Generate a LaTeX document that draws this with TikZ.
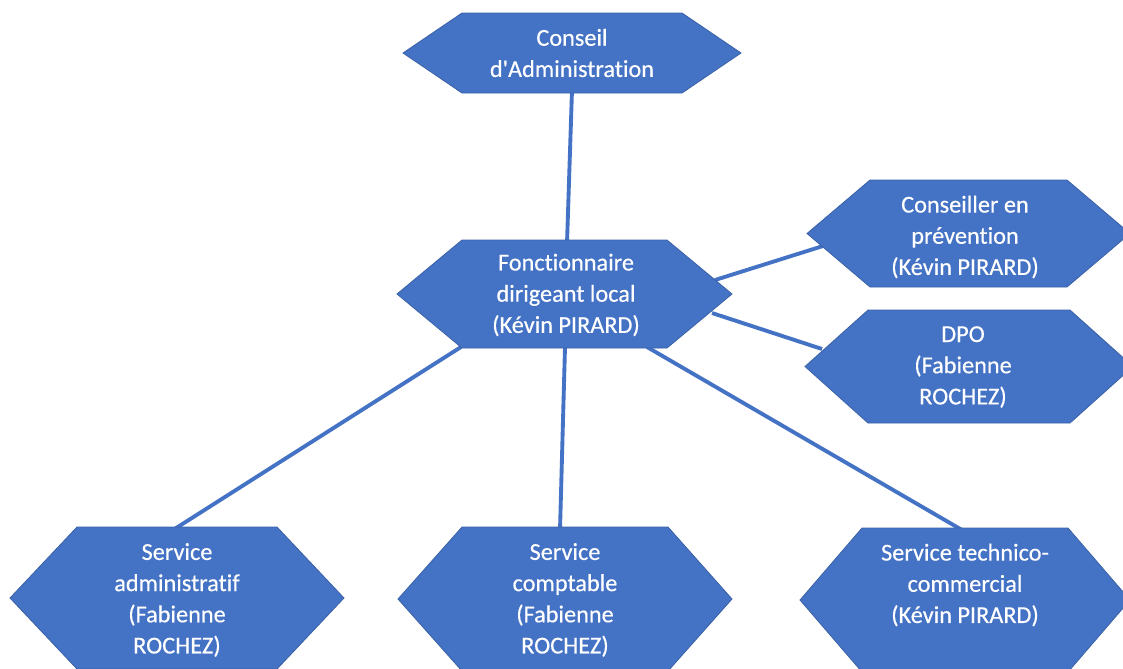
\documentclass[tikz,border=0pt]{standalone}
\usepackage{fontspec}
\newfontfamily\calfont[Ligatures={NoCommon,NoContextual}, RawFeature={-liga;-clig}, FakeBold=0.4]{Carlito}
\usetikzlibrary{calc}
\definecolor{offblue}{HTML}{4472C4}
\tikzset{
  hexfill/.style={fill=offblue, draw=offblue!85!black, line width=0.6pt},
  hextext/.style={text=white, align=center, inner sep=0pt,
    font=\calfont\fontsize{18.2}{23.4}\selectfont},
  link/.style={draw=offblue, line width=2.9pt}
}
% name, cx, cy, half width, half height, inset
\newcommand\myhex[6]{%
  \path[hexfill] (#2-#4,#3) -- (#2-#4+#6,#3-#5) -- (#2+#4-#6,#3-#5)
    -- (#2+#4,#3) -- (#2+#4-#6,#3+#5) -- (#2-#4+#6,#3+#5) -- cycle;
  \coordinate (#1) at (#2,#3);
}
\begin{document}
\begin{tikzpicture}[x=0.75pt,y=-0.75pt]
\useasboundingbox (0,0) rectangle (1123,668);
\clip (0,0) rectangle (1123,668);
\fill[white] (0,0) rectangle (1123,668);

% connectors (drawn first, behind shapes)
\coordinate (CAb) at (572,90);
\coordinate (Ft)  at (567,243);
\coordinate (Fr1) at (715,280);
\coordinate (Fr2) at (712,313);
\coordinate (Fb1) at (461,347);
\coordinate (Fb2) at (565,347);
\coordinate (Fb3) at (647,347);
\coordinate (CPl) at (823,246);
\coordinate (DPl) at (822,349);
\coordinate (SAt) at (173,530);
\coordinate (SCt) at (560,530);
\coordinate (STt) at (962,530);
\draw[link] (CAb) -- (Ft);
\draw[link] (Fr1) -- (CPl);
\draw[link] (Fr2) -- (DPl);
\draw[link] (Fb1) -- (SAt);
\draw[link] (Fb2) -- (SCt);
\draw[link] (Fb3) -- (STt);

% hexagons
\myhex{CAh}{572}{53}{169}{40}{59}
\myhex{Fh}{564.5}{294}{167.5}{54}{65}
\myhex{CPh}{968.5}{233.5}{161.5}{53.5}{63}
\myhex{DPh}{969}{366.5}{164}{56.5}{63}
\myhex{SAh}{177}{598}{167}{71}{67}
\myhex{SCh}{565}{599}{167}{72}{64}
\myhex{STh}{965}{600}{165}{72}{62}

% texts
\node[hextext] (CA) at (572,53) {Conseil\\d'Administration};
\node[hextext] (F) at (566,295) {Fonctionnaire\\dirigeant local\\(Kévin PIRARD)};
\node[hextext] (CP) at (965,237) {Conseiller en\\prévention\\(Kévin PIRARD)};
\node[hextext] (DP) at (963,367) {DPO\\(Fabienne\\ROCHEZ)};
\node[hextext] (SA) at (177,600) {Service\\administratif\\(Fabienne\\ROCHEZ)};
\node[hextext] (SC) at (565,600) {Service\\comptable\\(Fabienne\\ROCHEZ)};
\node[hextext] (ST) at (965,585) {Service technico-\\commercial\\(Kévin PIRARD)};
\end{tikzpicture}
\end{document}
